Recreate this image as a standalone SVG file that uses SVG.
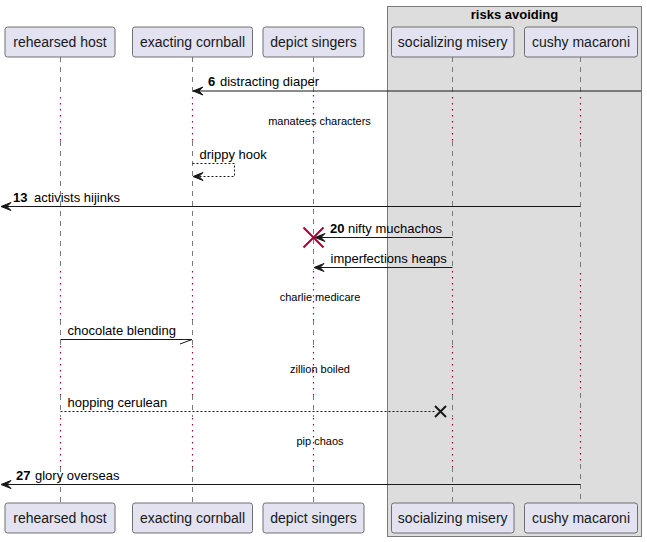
<svg xmlns="http://www.w3.org/2000/svg" width="647" height="542" viewBox="0 0 647 542">
<style>
.pbox{fill:#E2E2F0;stroke:#6f6f6f;stroke-width:1}
.ptxt{font-family:"Liberation Sans",Arial,sans-serif;font-size:14px;fill:#181818;text-anchor:middle}
.ll{stroke:#7a7a7a;stroke-width:1;stroke-dasharray:5,5;fill:none}
.dl{stroke:#A80036;stroke-width:1.2;stroke-dasharray:1.5,4.5;fill:none}
.msg{stroke:#181818;stroke-width:1;fill:none}
.dash{stroke:#181818;stroke-width:1;stroke-dasharray:2,2;fill:none}
.head{fill:#181818;stroke:#181818;stroke-width:1}
.mtxt{font-family:"Liberation Sans",Arial,sans-serif;font-size:13px;fill:#000}
.num{font-family:"Liberation Sans",Arial,sans-serif;font-size:13px;font-weight:bold;fill:#000}
.dtxt{font-family:"Liberation Sans",Arial,sans-serif;font-size:11px;fill:#000;text-anchor:middle}
.gtitle{font-family:"Liberation Sans",Arial,sans-serif;font-size:13px;font-weight:bold;fill:#000;text-anchor:middle}
</style>
<g id="group-risks-avoiding">
<rect x="387.5" y="6.5" width="254" height="530" fill="#DDDDDD" stroke="#7a7a7a" stroke-width="1"/>
<text class="gtitle" x="514.5" y="19">risks avoiding</text>
</g>
<g id="lifelines">
<g id="ll-rehearsed">
<path class="ll" d="M60.5,57 V96 M60.5,141 V270 M60.5,320 V345 M60.5,395 V417 M60.5,467 V503"/>
<path class="dl" d="M60.5,97 V141 M60.5,271 V320 M60.5,346 V395 M60.5,418 V467"/>
</g>
<g id="ll-exacting">
<path class="ll" d="M192.5,57 V96 M192.5,141 V270 M192.5,320 V345 M192.5,395 V417 M192.5,467 V503"/>
<path class="dl" d="M192.5,97 V141 M192.5,271 V320 M192.5,346 V395 M192.5,418 V467"/>
</g>
<g id="ll-depict">
<path class="ll" d="M313.5,57 V94 M313.5,139 V270 M313.5,320 V345 M313.5,395 V417 M313.5,467 V503"/>
<path class="dl" d="M313.5,95 V139 M313.5,271 V320 M313.5,346 V395 M313.5,418 V467"/>
</g>
<g id="ll-socializing">
<path class="ll" d="M452.5,57 V96 M452.5,141 V270 M452.5,320 V345 M452.5,395 V417 M452.5,467 V503"/>
<path class="dl" d="M452.5,97 V141 M452.5,271 V320 M452.5,346 V395 M452.5,418 V467"/>
</g>
<g id="ll-cushy">
<path class="ll" d="M580.5,57 V96 M580.5,142 V272 M580.5,393 V410 M580.5,464 V503"/>
<path class="dl" d="M580.5,97 V142 M580.5,273 V393 M580.5,411 V464"/>
</g>
</g>
<g id="p-rehearsed-host">
<rect class="pbox" x="5" y="27" width="110" height="30" rx="2.5"/>
<text class="ptxt" x="60" y="47">rehearsed host</text>
<rect class="pbox" x="5" y="503" width="110" height="30" rx="2.5"/>
<text class="ptxt" x="60" y="523">rehearsed host</text>
</g>
<g id="p-exacting-cornball">
<rect class="pbox" x="132.5" y="27" width="120" height="30" rx="2.5"/>
<text class="ptxt" x="192.5" y="47">exacting cornball</text>
<rect class="pbox" x="132.5" y="503" width="120" height="30" rx="2.5"/>
<text class="ptxt" x="192.5" y="523">exacting cornball</text>
</g>
<g id="p-depict-singers">
<rect class="pbox" x="263" y="27" width="101" height="30" rx="2.5"/>
<text class="ptxt" x="313.5" y="47">depict singers</text>
<rect class="pbox" x="263" y="503" width="101" height="30" rx="2.5"/>
<text class="ptxt" x="313.5" y="523">depict singers</text>
</g>
<g id="p-socializing-misery">
<rect class="pbox" x="391.5" y="27" width="122.5" height="30" rx="2.5"/>
<text class="ptxt" x="452.7" y="47">socializing misery</text>
<rect class="pbox" x="391.5" y="503" width="122.5" height="30" rx="2.5"/>
<text class="ptxt" x="452.7" y="523">socializing misery</text>
</g>
<g id="p-cushy-macaroni">
<rect class="pbox" x="524.5" y="27" width="113" height="30" rx="2.5"/>
<text class="ptxt" x="581" y="47">cushy macaroni</text>
<rect class="pbox" x="524.5" y="503" width="113" height="30" rx="2.5"/>
<text class="ptxt" x="581" y="523">cushy macaroni</text>
</g>
<g id="connectors">
<g id="m6">
<line class="msg" x1="641" y1="91" x2="193" y2="91"/>
<polygon class="head" points="193,91 203,87 199,91 203,95"/>
<text class="num" x="208" y="86">6</text>
<text class="mtxt" x="220" y="86">distracting diaper</text>
</g>
<g id="d1"><text class="dtxt" x="319.5" y="125">manatees characters</text></g>
<g id="m-drippy">
<polyline class="dash" points="192.5,163.5 234.5,163.5 234.5,176.5 194,176.5"/>
<polygon class="head" points="193,176.5 203,172.5 199,176.5 203,180.5"/>
<text class="mtxt" x="199.5" y="159">drippy hook</text>
</g>
<g id="m13">
<line class="msg" x1="580.5" y1="206.5" x2="2" y2="206.5"/>
<polygon class="head" points="1,206.5 11,202.5 7,206.5 11,210.5"/>
<text class="num" x="13" y="202">13</text>
<text class="mtxt" x="34" y="202">activists hijinks</text>
</g>
<g id="m20">
<line class="msg" x1="452.5" y1="237.5" x2="316" y2="237.5"/>
<polygon class="head" points="315,237.5 325,233.5 321,237.5 325,241.5"/>
<path d="M303.5,227.5 L323.5,247.5 M303.5,247.5 L323.5,227.5" stroke="#A80036" stroke-width="2" fill="none"/>
<text class="num" x="330" y="233">20</text>
<text class="mtxt" x="348" y="233">nifty muchachos</text>
</g>
<g id="m-imperfections">
<line class="msg" x1="452.5" y1="267.5" x2="315" y2="267.5"/>
<polygon class="head" points="314,267.5 324,263.5 320,267.5 324,271.5"/>
<text class="mtxt" x="330.5" y="263">imperfections heaps</text>
</g>
<g id="d2"><text class="dtxt" x="320" y="301">charlie medicare</text></g>
<g id="m-chocolate">
<line class="msg" x1="60.5" y1="339.5" x2="192" y2="339.5"/>
<line class="msg" x1="192" y1="339.5" x2="180" y2="344"/>
<text class="mtxt" x="67.5" y="335">chocolate blending</text>
</g>
<g id="d3"><text class="dtxt" x="320" y="373">zillion boiled</text></g>
<g id="m-hopping">
<line class="dash" x1="60.5" y1="411.5" x2="436" y2="411.5"/>
<path d="M435,406 L446,417 M435,417 L446,406" stroke="#181818" stroke-width="2" fill="none"/>
<text class="mtxt" x="67.5" y="407">hopping cerulean</text>
</g>
<g id="d4"><text class="dtxt" x="320" y="445">pip chaos</text></g>
<g id="m27">
<line class="msg" x1="580.5" y1="484.5" x2="2" y2="484.5"/>
<polygon class="head" points="1,484.5 11,480.5 7,484.5 11,488.5"/>
<text class="num" x="16" y="480">27</text>
<text class="mtxt" x="35" y="480">glory overseas</text>
</g>
</g>
</svg>
